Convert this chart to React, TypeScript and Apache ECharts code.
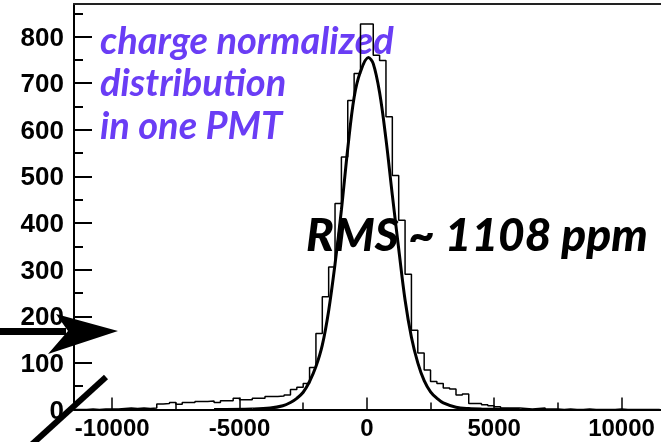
import React, { useEffect, useRef } from "react";
import * as echarts from "echarts";

// Histogram: bins of fixed width starting at BIN_START
const BIN_START = -11500;
const BIN_WIDTH = 250;
const binCounts = [
  0, 0, 1, 0, 1, 1, 1, 2, 3, 2,
  3, 2, 3, 12, 13, 15, 11, 15, 15, 17,
  17, 18, 15, 19, 19, 24, 21, 21, 24, 24,
  28, 28, 29, 31, 43, 48, 56, 90, 163, 242,
  306, 442, 542, 663, 721, 827, 827, 760, 749, 628,
  502, 406, 290, 170, 121, 85, 60, 56, 46, 44,
  31, 33, 13, 13, 10, 8, 6, 3, 3, 3,
  2, 1, 2, 3, 1, 1, 0, 1, 0, 0,
  1, 0, 0, 0, 0, 1, 0, 0, 0, 0,
  0, 0,
];

// Fitted curve
const fitX = [-6000, -4500, -3800, -3300, -3000, -2750, -2500, -2250, -2000, -1750, -1500, -1250, -1000, -750, -500, -250, 60, 250, 500, 750, 1000, 1250, 1500, 1750, 2000, 2250, 2500, 2750, 3000, 3500, 4000, 4500, 6000];
const fitY = [0, 1, 3, 8, 15, 24, 37, 60, 92, 138, 212, 312, 428, 560, 670, 725, 755, 742, 680, 580, 460, 345, 235, 155, 100, 62, 38, 24, 14, 5, 2, 1, 0];

const xMajorTicks = [-10000, -5000, 0, 5000, 10000];
const xMinorTicks = [-7500, -2500, 2500, 7500];
const yMajorTicks = [0, 100, 200, 300, 400, 500, 600, 700, 800];
const yMinorTicks = [50, 150, 250, 350, 450, 550, 650, 750, 850];

const titleLines = ["charge normalized", "distribution", "in one PMT"];
const rmsText = "RMS ~ 1108 ppm";

const X_MIN = -11500;
const X_MAX = 11550;
const Y_MAX = 870;

export default function App() {
  const ref = useRef<HTMLDivElement>(null);
  useEffect(() => {
    const chart = echarts.init(ref.current!, null, { renderer: "svg" });
    const histData: number[][] = binCounts.map((c, i) => [BIN_START + i * BIN_WIDTH, c]);
    histData.push([BIN_START + binCounts.length * BIN_WIDTH, binCounts[binCounts.length - 1]]);
    const fitData = fitX.map((x, i) => [x, fitY[i]]);
    const labelFont = {
      fontFamily: "Liberation Sans",
      fontWeight: "bold" as const,
      fontSize: 26,
      color: "#000",
    };
    const purple = "#6a3df5";
    const lineMids = [38.5, 80.5, 123.5];
    chart.setOption({
      animation: false,
      grid: { left: 74, right: 0, top: 4, bottom: 32.5, containLabel: false },
      xAxis: [
        {
          type: "value",
          min: X_MIN,
          max: X_MAX,
          position: "bottom",
          axisLine: { show: true, onZero: false, lineStyle: { color: "#000", width: 2 } },
          axisTick: { show: true, inside: true, length: 12, customValues: xMajorTicks, lineStyle: { color: "#000", width: 1.5 } },
          axisLabel: { show: true, customValues: xMajorTicks, margin: 7.5, lineHeight: 20, formatter: (v: number) => String(v), ...labelFont, fontSize: 24 },
          splitLine: { show: false },
        },
        {
          type: "value",
          min: X_MIN,
          max: X_MAX,
          position: "bottom",
          axisLine: { show: false, onZero: false },
          axisTick: { show: true, inside: true, length: 7, customValues: xMinorTicks, lineStyle: { color: "#000", width: 1.5 } },
          axisLabel: { show: false },
          splitLine: { show: false },
        },
        {
          type: "value",
          min: X_MIN,
          max: X_MAX,
          position: "top",
          axisLine: { show: true, onZero: false, lineStyle: { color: "#222", width: 2 } },
          axisTick: { show: false },
          axisLabel: { show: false },
          splitLine: { show: false },
        },
      ],
      yAxis: [
        {
          type: "value",
          min: 0,
          max: Y_MAX,
          position: "left",
          axisLine: { show: true, onZero: false, lineStyle: { color: "#000", width: 2 } },
          axisTick: { show: true, inside: true, length: 18, customValues: yMajorTicks, lineStyle: { color: "#000", width: 2 } },
          axisLabel: { show: true, customValues: yMajorTicks, margin: 10, formatter: (v: number) => String(v), ...labelFont },
          splitLine: { show: false },
        },
        {
          type: "value",
          min: 0,
          max: Y_MAX,
          position: "left",
          axisLine: { show: false, onZero: false },
          axisTick: { show: true, inside: true, length: 9, customValues: yMinorTicks, lineStyle: { color: "#000", width: 2 } },
          axisLabel: { show: false },
          splitLine: { show: false },
        },
      ],
      series: [
        {
          type: "line",
          data: histData,
          step: "end",
          symbol: "none",
          lineStyle: { color: "#000", width: 1.5 },
          z: 3,
        },
        {
          type: "line",
          data: fitData,
          smooth: 0.35,
          symbol: "none",
          lineStyle: { color: "#000", width: 3 },
          z: 4,
        },
      ],
      graphic: [
        ...titleLines.map((t, i) => ({
          type: "text",
          x: 100,
          y: lineMids[i],
          z: 1,
          style: {
            text: t,
            fill: purple,
            font: "italic bold 38px Lato",
            textVerticalAlign: "middle",
          },
        })),
        {
          type: "text",
          x: 306,
          y: 233,
          z: 10,
          style: {
            text: rmsText,
            fill: "#000",
            font: "italic 900 46px Lato",
            textVerticalAlign: "middle",
          },
        },
        {
          type: "rect",
          z: 100,
          shape: { x: -2, y: 328, width: 68, height: 7 },
          style: { fill: "#000" },
        },
        {
          type: "polygon",
          z: 100,
          shape: { points: [[118, 331], [56, 314], [68, 331], [48, 354]] },
          style: { fill: "#000" },
        },
        {
          type: "line",
          z: 100,
          shape: { x1: 29, y1: 447, x2: 106, y2: 377 },
          style: { stroke: "#000", lineWidth: 6 },
        },
      ],
    });
    return () => chart.dispose();
  }, []);
  return <div ref={ref} style={{ position: "fixed", left: 0, top: 0, width: 661, height: 442 }} />;
}
